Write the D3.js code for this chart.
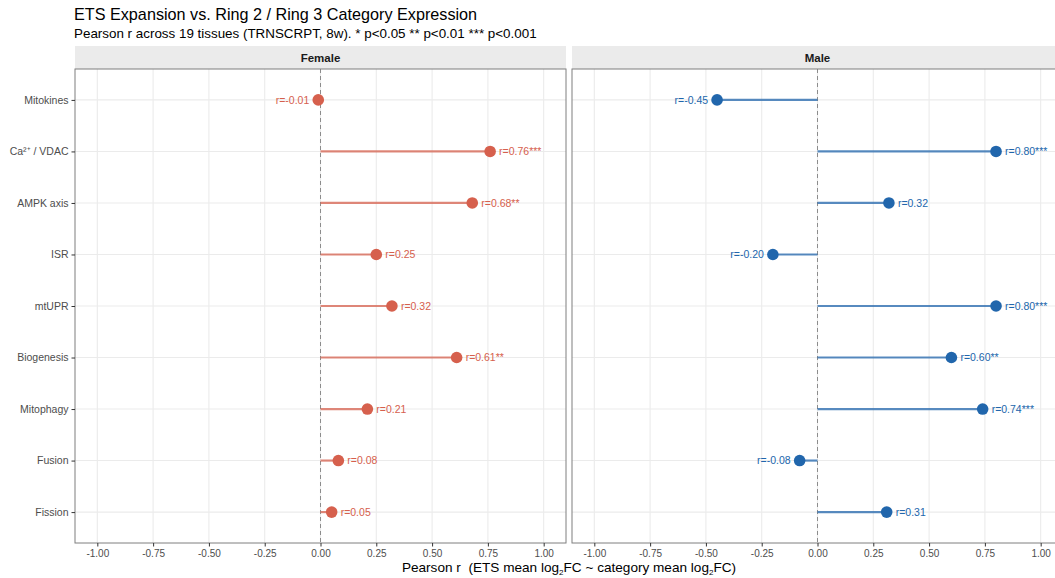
<!DOCTYPE html>
<html>
<head>
<meta charset="utf-8">
<script src="https://cdn.jsdelivr.net/npm/d3@7"></script>
<style>
  body { margin: 0; background: #fff; overflow: hidden; }
  text { font-family: "Liberation Sans", Arial, sans-serif; }
</style>
</head>
<body>
<svg id="chart" width="1055" height="578"></svg>
<script>
const categories = ["Mitokines", "Ca²⁺ / VDAC", "AMPK axis", "ISR", "mtUPR", "Biogenesis", "Mitophagy", "Fusion", "Fission"];
const femaleR = [-0.01, 0.76, 0.68, 0.25, 0.32, 0.61, 0.21, 0.08, 0.05];
const femaleStars = ["", "***", "**", "", "", "**", "", "", ""];
const maleR = [-0.45, 0.80, 0.32, -0.20, 0.80, 0.60, 0.74, -0.08, 0.31];
const maleStars = ["", "***", "", "", "***", "**", "***", "", ""];
const xTicks = [-1, -0.75, -0.5, -0.25, 0, 0.25, 0.5, 0.75, 1];

const panels = [
    { name: "Female", r: femaleR, stars: femaleStars, color: "#D6604D", left: 75 },
    { name: "Male", r: maleR, stars: maleStars, color: "#2166AC", left: 572 },
];

const panelW = 491;
const panelTop = 69, panelBottom = 543;
const stripH = 23;

const svg = d3.select("#chart");

svg.append("text").attr("x", 74).attr("y", 20).attr("font-size", 16.2).attr("fill", "#000")
    .text("ETS Expansion vs. Ring 2 / Ring 3 Category Expression");
svg.append("text").attr("x", 74).attr("y", 38).attr("font-size", 13.4).attr("fill", "#000")
    .text("Pearson r across 19 tissues (TRNSCRPT, 8w). * p<0.05 ** p<0.01 *** p<0.001");

const x = d3.scaleLinear().domain([-1.1, 1.1]).range([0, panelW]);
const y = d3.scalePoint().domain(categories).range([0, panelBottom - panelTop]).padding(0.6);

panels.forEach((p, pi) => {
    const data = categories.map((c, i) => ({ cat: c, r: p.r[i], stars: p.stars[i] }));
    const g = svg.append("g").attr("transform", `translate(${p.left},${panelTop})`);
    const h = panelBottom - panelTop;

    // strip
    g.append("rect").attr("x", 0).attr("y", -stripH).attr("width", panelW).attr("height", stripH).attr("fill", "#EBEBEB");
    g.append("text").attr("x", panelW / 2).attr("y", -stripH / 2).attr("dy", "0.35em")
        .attr("text-anchor", "middle").attr("font-size", 11.5).attr("font-weight", "bold").attr("fill", "#1A1A1A")
        .text(p.name);

    // grid
    g.selectAll(".vgrid").data(xTicks).join("line")
        .attr("x1", (d) => x(d)).attr("x2", (d) => x(d)).attr("y1", 0).attr("y2", h)
        .attr("stroke", "#EBEBEB").attr("stroke-width", 1.1);
    g.selectAll(".hgrid").data(categories).join("line")
        .attr("x1", 0).attr("x2", panelW).attr("y1", (d) => y(d)).attr("y2", (d) => y(d))
        .attr("stroke", "#EBEBEB").attr("stroke-width", 1.1);

    // zero line
    g.append("line").attr("x1", x(0)).attr("x2", x(0)).attr("y1", 0).attr("y2", h)
        .attr("stroke", "#8C8C8C").attr("stroke-width", 1).attr("stroke-dasharray", "4,3");

    // segments
    g.selectAll(".seg").data(data).join("line")
        .attr("x1", x(0)).attr("x2", (d) => x(d.r))
        .attr("y1", (d) => y(d.cat)).attr("y2", (d) => y(d.cat))
        .attr("stroke", p.color).attr("stroke-opacity", 0.75).attr("stroke-width", 2.2);

    // points
    g.selectAll(".pt").data(data).join("circle")
        .attr("cx", (d) => x(d.r)).attr("cy", (d) => y(d.cat)).attr("r", 5.8)
        .attr("fill", p.color);

    // labels
    g.selectAll(".lab").data(data).join("text")
        .attr("x", (d) => x(d.r) + (d.r < 0 ? -9 : 9))
        .attr("y", (d) => y(d.cat)).attr("dy", "0.35em")
        .attr("text-anchor", (d) => (d.r < 0 ? "end" : "start"))
        .attr("font-size", 10.5).attr("fill", p.color)
        .text((d) => `r=${d.r.toFixed(2)}${d.stars}`);

    // border
    g.append("rect").attr("x", 0).attr("y", 0).attr("width", panelW).attr("height", h)
        .attr("fill", "none").attr("stroke", "#7F7F7F").attr("stroke-width", 1);

    // x axis
    const xa = g.append("g").attr("transform", `translate(0,${h})`)
        .call(d3.axisBottom(x).tickValues(xTicks).tickFormat(d3.format(".2f")).tickSizeOuter(0).tickSize(3.5).tickPadding(3));
    xa.select(".domain").remove();
    xa.selectAll("line").attr("stroke", "#333");
    xa.selectAll("text").attr("font-size", 10).attr("fill", "#4D4D4D")
        .text((d) => d3.format(".2f")(d).replace("−", "-"));

    if (pi === 0) {
        const ya = g.append("g").call(d3.axisLeft(y).tickSize(3.5).tickPadding(3).tickSizeOuter(0));
        ya.select(".domain").remove();
        ya.selectAll("line").attr("stroke", "#333");
        ya.selectAll("text").attr("font-size", 10.5).attr("fill", "#4D4D4D");
    }
});

// x axis title
const xt = svg.append("text").attr("x", (75 + 572 + panelW) / 2).attr("y", 572)
    .attr("text-anchor", "middle").attr("font-size", 13.6).attr("fill", "#000");
xt.append("tspan").text("Pearson r\u00A0 (ETS mean log");
xt.append("tspan").attr("font-size", 8).attr("dy", 3).text("2");
xt.append("tspan").attr("dy", -3).text("FC ~ category mean log");
xt.append("tspan").attr("font-size", 8).attr("dy", 3).text("2");
xt.append("tspan").attr("dy", -3).text("FC)");
</script>
</body>
</html>
